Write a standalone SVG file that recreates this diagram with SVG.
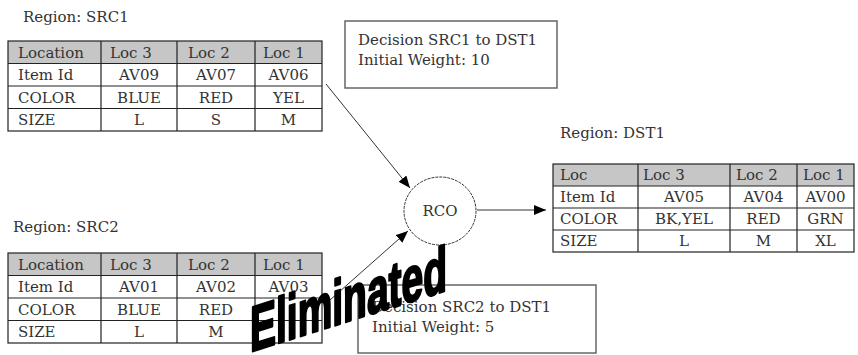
<svg xmlns="http://www.w3.org/2000/svg" width="858" height="355" viewBox="0 0 858 355">
<style>
text{font-family:"DejaVu Serif","Liberation Serif",serif;font-size:15px;fill:#333}
.c{text-anchor:middle}
.grid{fill:none;stroke:#222;stroke-width:1.2}
.hdr{fill:#c6c6c6;stroke:none}
.box{fill:#fff;stroke:#666;stroke-width:1.5}
.conn{stroke:#333;stroke-width:1;fill:none;marker-end:url(#ah)}
</style>
<defs>
<marker id="ah" viewBox="0 0 12 10" refX="12" refY="5" markerWidth="12" markerHeight="10" markerUnits="userSpaceOnUse" orient="auto">
<path d="M0,0 L12,5 L0,10 z" fill="#000"/>
</marker>
</defs>
<rect width="858" height="355" fill="#fff"/>

<g id="src1">
<text x="23" y="22">Region: SRC1</text>
<rect class="hdr" x="8" y="41" width="314" height="22.5"/>
<rect class="grid" x="8" y="41" width="314" height="90"/>
<path class="grid" d="M8,63.5H322M8,86H322M8,108.5H322M101,41V131M177,41V131M255,41V131"/>
<text x="18" y="57.5">Location</text><text x="110" y="57.5">Loc 3</text><text x="188" y="57.5">Loc 2</text><text x="263" y="57.5">Loc 1</text>
<text x="18" y="80">Item Id</text><text class="c" x="139" y="80">AV09</text><text class="c" x="216" y="80">AV07</text><text class="c" x="288.5" y="80">AV06</text>
<text x="18" y="102.5">COLOR</text><text class="c" x="139" y="102.5">BLUE</text><text class="c" x="216" y="102.5">RED</text><text class="c" x="288.5" y="102.5">YEL</text>
<text x="18" y="125">SIZE</text><text class="c" x="139" y="125">L</text><text class="c" x="216" y="125">S</text><text class="c" x="288.5" y="125">M</text>
</g>

<g id="src2">
<text x="13" y="232">Region: SRC2</text>
<rect class="hdr" x="8" y="253" width="314" height="22.5"/>
<rect class="grid" x="8" y="253" width="314" height="90"/>
<path class="grid" d="M8,275.5H322M8,298H322M8,320.5H322M101,253V343M177,253V343M255,253V343"/>
<text x="18" y="269.5">Location</text><text x="110" y="269.5">Loc 3</text><text x="188" y="269.5">Loc 2</text><text x="263" y="269.5">Loc 1</text>
<text x="18" y="292">Item Id</text><text class="c" x="139" y="292">AV01</text><text class="c" x="216" y="292">AV02</text><text class="c" x="288.5" y="292">AV03</text>
<text x="18" y="314.5">COLOR</text><text class="c" x="139" y="314.5">BLUE</text><text class="c" x="216" y="314.5">RED</text>
<text x="18" y="337">SIZE</text><text class="c" x="139" y="337">L</text><text class="c" x="216" y="337">M</text>
</g>

<g id="dst1">
<text x="560" y="138">Region: DST1</text>
<rect class="hdr" x="553" y="164" width="301" height="22"/>
<rect class="grid" x="553" y="164" width="301" height="88"/>
<path class="grid" d="M553,186H854M553,208H854M553,230H854M638,164V252M730,164V252M797,164V252"/>
<text x="560" y="180">Loc</text><text x="643" y="180">Loc 3</text><text x="736" y="180">Loc 2</text><text x="803" y="180">Loc 1</text>
<text x="560" y="202">Item Id</text><text class="c" x="684" y="202">AV05</text><text class="c" x="763.5" y="202">AV04</text><text class="c" x="825.5" y="202">AV00</text>
<text x="560" y="224">COLOR</text><text class="c" x="684" y="224">BK,YEL</text><text class="c" x="763.5" y="224">RED</text><text class="c" x="825.5" y="224">GRN</text>
<text x="560" y="246">SIZE</text><text class="c" x="684" y="246">L</text><text class="c" x="763.5" y="246">M</text><text class="c" x="825.5" y="246">XL</text>
</g>

<g id="decision1">
<rect class="box" x="345" y="21" width="212" height="67"/>
<text x="358" y="45">Decision SRC1 to DST1</text>
<text x="358" y="65">Initial Weight: 10</text>
</g>

<g id="rco">
<ellipse cx="440" cy="211" rx="36" ry="34" fill="#fff" stroke="#333" stroke-width="1" stroke-dasharray="3 1"/>
<text class="c" x="440" y="216">RCO</text>
</g>

<g id="connectors">
<line class="conn" x1="326" y1="84" x2="410" y2="188"/>
<line class="conn" x1="330" y1="300" x2="408" y2="231"/>
<line class="conn" x1="477" y1="210" x2="546" y2="210"/>
</g>

<g id="decision2">
<rect class="box" x="358" y="285" width="238" height="68"/>
<text x="372" y="312">Decision SRC2 to DST1</text>
<text x="372" y="332">Initial Weight: 5</text>
</g>

<g id="eliminated">
<text transform="translate(250,352) skewY(-17.4)" x="0" y="0" textLength="197" lengthAdjust="spacingAndGlyphs" style="font-family:'Liberation Sans','DejaVu Sans',sans-serif;font-weight:900;font-size:64px;fill:#000;stroke:#000;stroke-width:2.5;stroke-linejoin:round">Eliminated</text>
</g>
</svg>
